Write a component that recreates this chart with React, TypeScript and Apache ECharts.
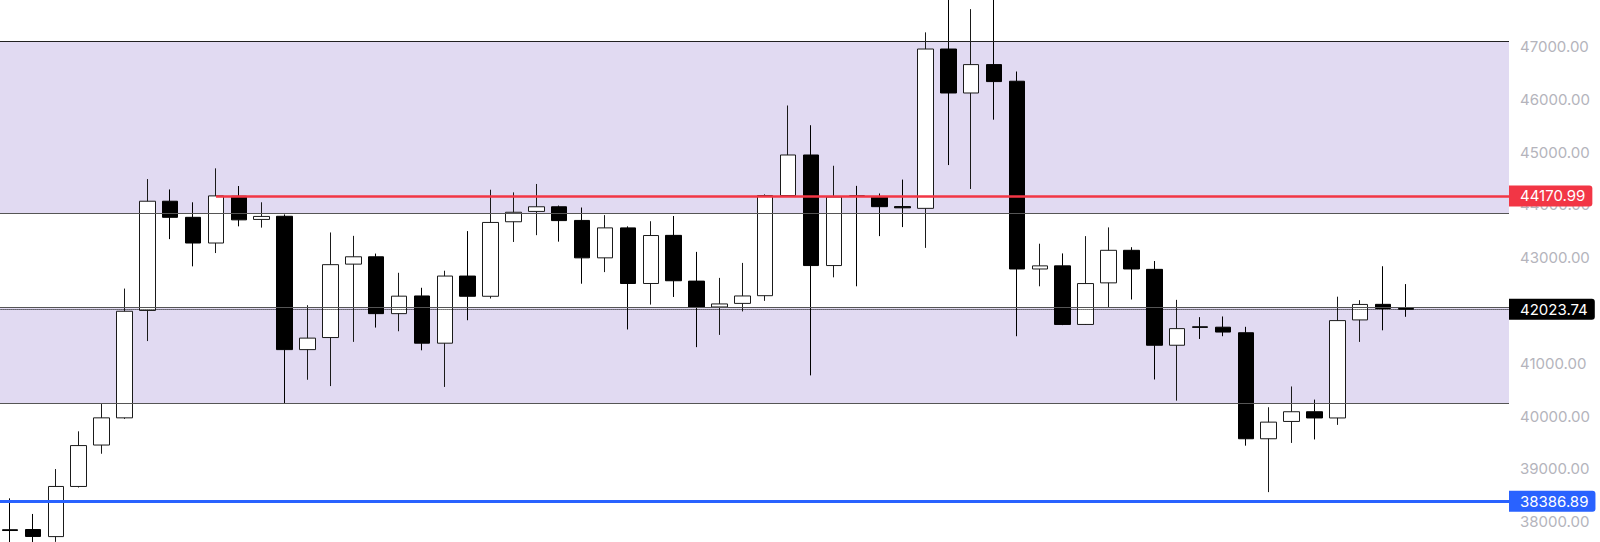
import React, { useEffect, useRef } from "react";
import * as echarts from "echarts";

const categories: string[] = Array.from({ length: 66 }, (_, i) => String(i + 1));

const opens = [
  37845, 37849, 37715, 38665, 39450, 39965, 42000, 44070, 43765, 43278,
  44165, 43725, 43785, 41258, 41487, 42878, 43017, 41940, 42275, 41380,
  42652, 42269, 43681, 43877, 43965, 43706, 42997, 43565, 42511, 43423,
  42556, 42066, 42134, 42280, 44178, 44946, 42851, 44172, 44151, 43968,
  43935, 46954, 46121, 46659, 46344, 42786, 42845, 41735, 42523, 43140,
  42779, 41341, 41690, 41683, 41578, 39569, 39897, 40081, 39963, 41821,
  42116, 42037,
];
const highs = [
  38440, 38144, 38995, 39710, 40240, 42415, 44490, 44293, 44050, 44693,
  44358, 44050, 43820, 42100, 43478, 43414, 43078, 42714, 42430, 42753,
  43504, 44288, 44238, 44397, 43988, 43951, 43807, 43594, 43691, 43790,
  43110, 42617, 42901, 44200, 45884, 45510, 44742, 44361, 44217, 44480,
  47270, 48100, 47710, 48050, 46528, 43265, 43081, 43409, 43574, 43199,
  42937, 42201, 41873, 41886, 41690, 40166, 40560, 40311, 42261, 42195,
  42838, 42500,
];
const lows = [
  37300, 37350, 37615, 38645, 39285, 39945, 41420, 43352, 42836, 43088,
  43594, 43570, 40240, 40687, 40567, 41405, 41676, 41606, 41245, 40551,
  41815, 42227, 43298, 43427, 43304, 42507, 42727, 41640, 42111, 42256,
  41305, 41537, 41982, 42182, 44164, 40770, 42628, 42458, 43409, 43580,
  43186, 44755, 44302, 45615, 41512, 42458, 41722, 41725, 42064, 42208,
  40692, 40291, 41460, 41512, 39438, 38558, 39490, 39556, 39832, 41404,
  41624, 41880,
];
const closes = [
  37830, 37718, 38665, 39440, 39965, 41985, 44070, 43765, 43278, 44170.99,
  43717, 43782, 41258, 41476, 42868, 43017, 41940, 42271, 41380, 42652,
  42269, 43668, 43861, 43965, 43703, 42997, 43565, 42511, 43420, 42563,
  42063, 42124, 42275, 44178, 44946, 42851, 44151, 44160, 43967, 43945,
  46954, 46121, 46659, 46337, 42786, 42845, 41735, 42510, 43140, 42786,
  41341, 41656, 41680, 41591, 39569, 39884, 40081, 39963, 41808, 42114,
  42037, 42023.74,
];

const yTicksMin = 37000;
const yTicksMax = 48000;
const yTickStep = 1000;

const RED_LEVEL = 44170.99;
const RED_START_INDEX = 9;
const BLUE_LEVEL = 38386.89;
const LAST_PRICE = 42023.74;
const upperBand = [47100, 43836];
const lowerBand = [42064, 40245];

const FONT = "Inter, 'Noto Sans', sans-serif";

// the chart's div is larger than the page and shifted, so that the plot
// can run past the top and bottom of the visible window
const SHIFT_X = 10;
const SHIFT_Y = 20;

function badge(bg: string, text: string) {
  return {
    show: true,
    position: "end" as const,
    distance: 0,
    formatter: text,
    backgroundColor: bg,
    color: "#ffffff",
    fontFamily: FONT,
    fontSize: 15,
    lineHeight: 17,
    padding: [2, 7, 2, 11],
    borderRadius: [0, 3, 3, 0],
  };
}

export default function App() {
  const ref = useRef<HTMLDivElement>(null);
  useEffect(() => {
    if (!ref.current) return;
    const chart = echarts.init(ref.current, undefined, { renderer: "svg" });
    const candleData = opens.map((o, i) => [o, closes[i], lows[i], highs[i]]);
    const nSlots = categories.length;
    chart.setOption({
      animation: false,
      backgroundColor: "#ffffff",
      grid: {
        left: -1.45 + SHIFT_X,
        top: -6.17 + SHIFT_Y,
        width: 1510.45,
        height: 580.5,
        outerBoundsMode: "none",
      },
      xAxis: [
        { type: "category", data: categories, show: false, boundaryGap: true },
        { type: "value", min: 0, max: nSlots, show: false },
      ],
      yAxis: {
        type: "value",
        position: "right",
        min: yTicksMin,
        max: yTicksMax,
        interval: yTickStep,
        axisLine: { show: false },
        axisTick: { show: false },
        splitLine: { show: false },
        axisLabel: {
          color: "#b4b4bc",
          fontFamily: FONT,
          fontSize: 15,
          margin: 11,
          showMinLabel: false,
          showMaxLabel: false,
          formatter: (v: number) => v.toFixed(2),
        },
      },
      series: [
        {
          name: "bands",
          type: "line",
          xAxisIndex: 1,
          data: [],
          z: 1,
          silent: true,
          markArea: {
            silent: true,
            itemStyle: { color: "#e1daf2" },
            data: [
              [{ yAxis: upperBand[0] }, { yAxis: upperBand[1] }],
              [{ yAxis: lowerBand[0] }, { yAxis: lowerBand[1] }],
            ],
          },
          markLine: {
            silent: true,
            symbol: "none",
            label: { show: false },
            lineStyle: { color: "#555555", width: 1, type: "solid" },
            data: [
              { yAxis: upperBand[0], lineStyle: { color: "#222222", width: 1, type: "solid" } },
              { yAxis: upperBand[1] },
              { yAxis: lowerBand[0] },
              { yAxis: lowerBand[1] },
            ],
          },
        },
        {
          name: "levels",
          type: "line",
          xAxisIndex: 1,
          data: [],
          z: 2,
          silent: true,
          markLine: {
            silent: true,
            symbol: "none",
            data: [
              {
                yAxis: BLUE_LEVEL,
                lineStyle: { color: "#2962ff", width: 3, type: "solid" },
                label: badge("#2962ff", BLUE_LEVEL.toFixed(2)),
              },
              [
                {
                  coord: [RED_START_INDEX + 0.5, RED_LEVEL],
                  lineStyle: { color: "#f23645", width: 2.5, type: "solid" },
                  label: badge("#f23645", RED_LEVEL.toFixed(2)),
                },
                { coord: [nSlots, RED_LEVEL] },
              ],
            ],
          },
        },
        {
          name: "price",
          type: "candlestick",
          xAxisIndex: 0,
          data: candleData,
          z: 3,
          barWidth: 16,
          itemStyle: {
            color: "#ffffff",
            color0: "#000000",
            borderColor: "#1a1a1a",
            borderColor0: "#000000",
            borderWidth: 1,
          },
        },
        {
          name: "last",
          type: "line",
          xAxisIndex: 1,
          data: [],
          z: 4,
          silent: true,
          markLine: {
            silent: true,
            symbol: "none",
            data: [
              {
                yAxis: LAST_PRICE,
                lineStyle: { color: "#000000", width: 1, type: "dotted" },
                label: badge("#000000", LAST_PRICE.toFixed(2)),
              },
            ],
          },
        },
      ],
    });
    return () => chart.dispose();
  }, []);
  return (
    <div
      ref={ref}
      style={{
        position: "fixed",
        left: -SHIFT_X,
        top: -SHIFT_Y,
        width: 1600 + SHIFT_X,
        height: 542 + 2 * SHIFT_Y + 20,
      }}
    />
  );
}
